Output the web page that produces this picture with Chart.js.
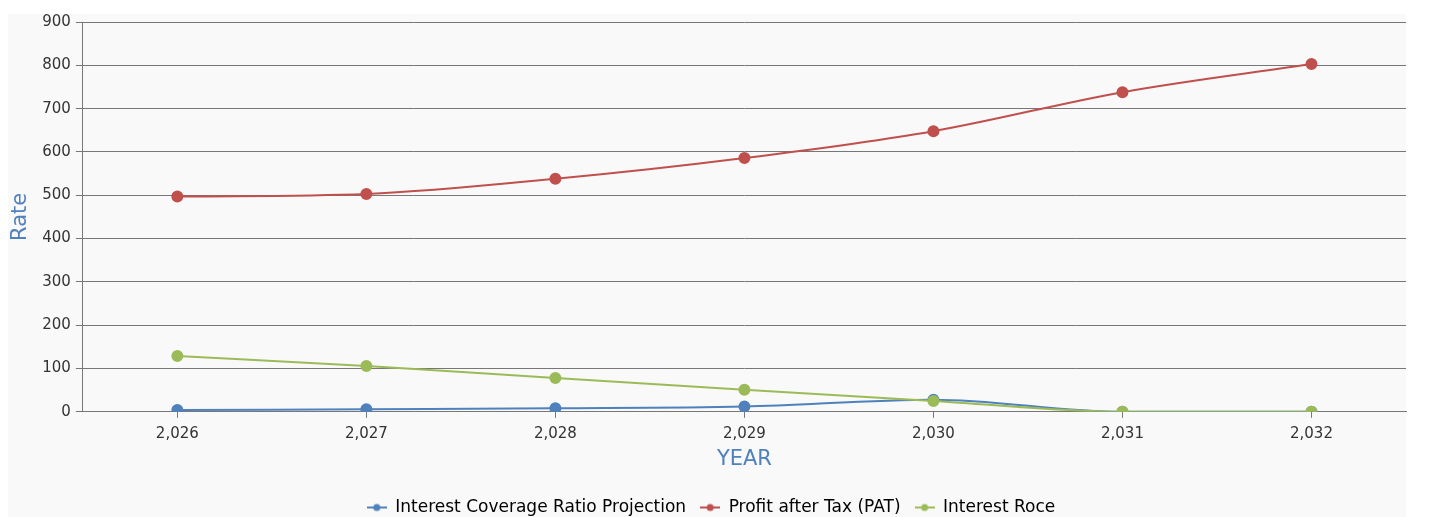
<!DOCTYPE html>
<html>
<head>
<meta charset="utf-8">
<script src="https://cdn.jsdelivr.net/npm/chart.js@4"></script>
<style>
body{margin:0;background:#fff;overflow:hidden;}
#panel{position:absolute;left:8px;top:14px;width:1398px;height:503px;background:#f9f9f9;}
#wrap{position:absolute;left:8px;top:8px;width:1406px;height:518px;}
</style>
</head>
<body>
<div id="panel"></div>
<div id="wrap"><canvas id="myChart"></canvas></div>
<script>
const years = [2026, 2027, 2028, 2029, 2030, 2031, 2032];
const coverageRatio = [4, 6, 8, 12, 28, 0, 0];
const profitAfterTax = [497, 503, 538, 586, 648, 738, 803];
const interestRoce = [129, 106, 78, 51, 25, 0, 0];
const yTicks = [0, 100, 200, 300, 400, 500, 600, 700, 800, 900];

const FONT = "'DejaVu Sans', sans-serif";

// little "-o-" marker for the legend
function legendMark(color){
    const c = document.createElement('canvas');
    c.width = 20; c.height = 10;
    const g = c.getContext('2d');
    g.strokeStyle = color; g.lineWidth = 2;
    g.beginPath(); g.moveTo(0,5); g.lineTo(20,5); g.stroke();
    g.fillStyle = color;
    g.beginPath(); g.arc(10,5,3.5,0,Math.PI*2); g.fill();
    return c;
}

function series(label, data, color, order){
    return {
        label: label,
        data: data,
        borderColor: color,
        backgroundColor: color,
        borderWidth: 2,
        pointRadius: 5,
        pointHoverRadius: 6,
        pointStyle: 'circle',
        cubicInterpolationMode: 'monotone',
        order: order
    };
}

new Chart(document.getElementById('myChart'), {
    type: 'line',
    data: {
        labels: years.map(y => y.toLocaleString('en-US')),
        datasets: [
            series('Interest Coverage Ratio Projection', coverageRatio, '#4f81bd', 2),
            series('Profit after Tax (PAT)', profitAfterTax, '#c0504d', 1),
            series('Interest Roce', interestRoce, '#9bbb59', 0)
        ]
    },
    options: {
        responsive: true,
        maintainAspectRatio: false,
        animation: false,
        layout: {padding: 0},
        plugins: {
            legend: {
                position: 'bottom',
                labels: {
                    font: {family: FONT, size: 17},
                    color: '#333',
                    boxWidth: 20,
                    boxHeight: 10,
                    pointStyleWidth: 20,
                    padding: 14,
                    usePointStyle: true,
                    generateLabels: function(chart){
                        return chart.data.datasets.map((ds, i) => ({
                            text: ds.label,
                            pointStyle: legendMark(ds.borderColor),
                            fillStyle: ds.borderColor,
                            strokeStyle: ds.borderColor,
                            lineWidth: 0,
                            hidden: !chart.isDatasetVisible(i),
                            datasetIndex: i
                        }));
                    }
                }
            },
            tooltip: {enabled: true}
        },
        scales: {
            x: {
                offset: true,
                grid: {offset: false, drawOnChartArea: false, drawTicks: true, tickLength: 6, color: '#777'},
                border: {color: '#777', width: 1},
                ticks: {font: {family: FONT, size: 15}, color: '#333', padding: 7},
                title: {display: true, text: 'YEAR', color: '#4f81bd', font: {family: FONT, size: 21}, padding: {top: -3, bottom: 13}}
            },
            y: {
                min: 0,
                max: 900,
                afterBuildTicks: function(scale){ scale.ticks = yTicks.map(v => ({value: v})); },
                grid: {color: '#777', tickLength: 7},
                border: {color: '#777', width: 1},
                ticks: {font: {family: FONT, size: 15}, color: '#333', padding: 5},
                title: {display: true, text: 'Rate', color: '#4f81bd', font: {family: FONT, size: 21}, padding: {top: 0, bottom: 4}}
            }
        }
    }
});
</script>
</body>
</html>
